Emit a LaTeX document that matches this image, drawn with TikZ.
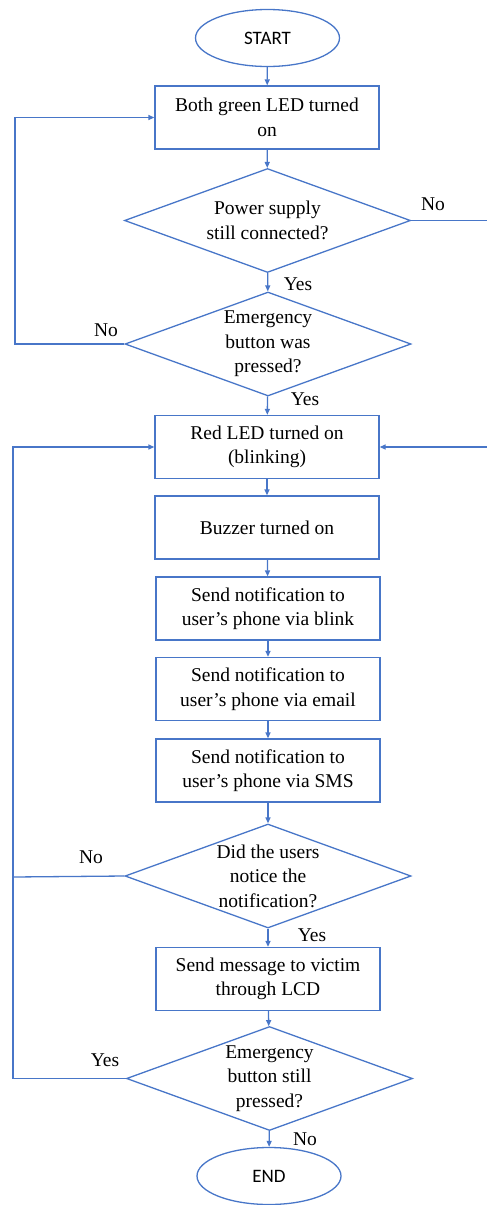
\documentclass[tikz,border=0pt]{standalone}
\usepackage{fontspec}
\setmainfont{Liberation Serif}
\newfontfamily\calib{Carlito}
\usetikzlibrary{shapes.geometric,arrows.meta}
\definecolor{fcblue}{RGB}{72,118,200}
\tikzset{
  every node/.style={font=\fontsize{19.5}{24.5}\selectfont},
  term/.style={ellipse,draw=fcblue,line width=1.3pt,minimum width=144pt,minimum height=57pt,inner sep=0pt,font=\calib\fontsize{19}{23}\selectfont},
  procbox/.style={rectangle,draw=fcblue,line width=1.3pt,minimum width=224pt,minimum height=63pt,inner sep=0pt,align=center},
  decide/.style={diamond,draw=fcblue,line width=1.3pt,minimum width=286pt,minimum height=104pt,inner sep=0pt,aspect=2.75},
  dtext/.style={align=center,inner sep=0pt},
  lab/.style={inner sep=0pt},
  flow/.style={draw=fcblue,line width=1.3pt,-{Triangle[length=6pt,width=5pt]}},
  plain/.style={draw=fcblue,line width=1.3pt}
}
\begin{document}
\begin{tikzpicture}[x=1pt,y=-1pt]
\useasboundingbox (0,0) rectangle (487,1205);
\node[term] (start) at (267.5,38) {START};
\node[procbox] (b1) at (267,117.5) {Both green LED turned\\on};
\node[decide] (d1) at (267.5,220.5) {};
\node[dtext] at (d1) {Power supply\\still connected?};
\node[decide] (d2) at (268,344) {};
\node[dtext] at (d2) {Emergency\\button was\\pressed?};
\node[procbox] (red) at (267,447) {Red LED turned on\\(blinking)};
\node[procbox] (buz) at (267,527.5) {Buzzer turned on};
\node[procbox] (blink) at (268,608.5) {Send notification to\\user's phone via blink};
\node[procbox] (email) at (268,689) {Send notification to\\user's phone via email};
\node[procbox] (sms) at (268,770.5) {Send notification to\\user's phone via SMS};
\node[decide] (d3) at (268,876) {};
\node[dtext] at (d3) {Did the users\\notice the\\notification?};
\node[procbox] (lcd) at (268,979) {Send message to victim\\through LCD};
\node[decide] (d4) at (269.5,1078.5) {};
\node[dtext] at (d4) {Emergency\\button still\\pressed?};
\node[term] (endn) at (269,1176) {END};

\coordinate (r1) at (487,220.5);
\coordinate (r2) at (487,447);
\coordinate (l1) at (15,344);
\coordinate (l1t) at (15,117.5);
\coordinate (l2) at (13,1078.5);
\coordinate (l2t) at (13,447);
\coordinate (l3) at (13,877);

\draw[flow] (start) -- (b1);
\draw[flow] (b1) -- (d1);
\draw[flow] (d1) -- (d2);
\draw[flow] (d2) -- (red);
\draw[flow] (red) -- (buz);
\draw[flow] (buz) -- (blink);
\draw[flow] (blink) -- (email);
\draw[flow] (email) -- (sms);
\draw[flow] (sms) -- (d3);
\draw[flow] (d3) -- (lcd);
\draw[flow] (lcd) -- (d4);
\draw[flow] (d4) -- (endn);

\draw[plain] (d1.east) -- (r1);
\draw[flow] (r2) -- (red.east);
\draw[flow] (d2.west) -- (l1) -- (l1t) -- (b1.west);
\draw[flow] (d4.west) -- (l2) -- (l2t) -- (red.west);
\draw[plain] (d3.west) -- (l3);

\node[lab] at (433,204) {No};
\node[lab] at (298,284) {Yes};
\node[lab] at (106,330) {No};
\node[lab] at (305,399) {Yes};
\node[lab] at (91,857) {No};
\node[lab] at (312,935) {Yes};
\node[lab] at (105,1060) {Yes};
\node[lab] at (305,1139) {No};
\end{tikzpicture}
\end{document}
